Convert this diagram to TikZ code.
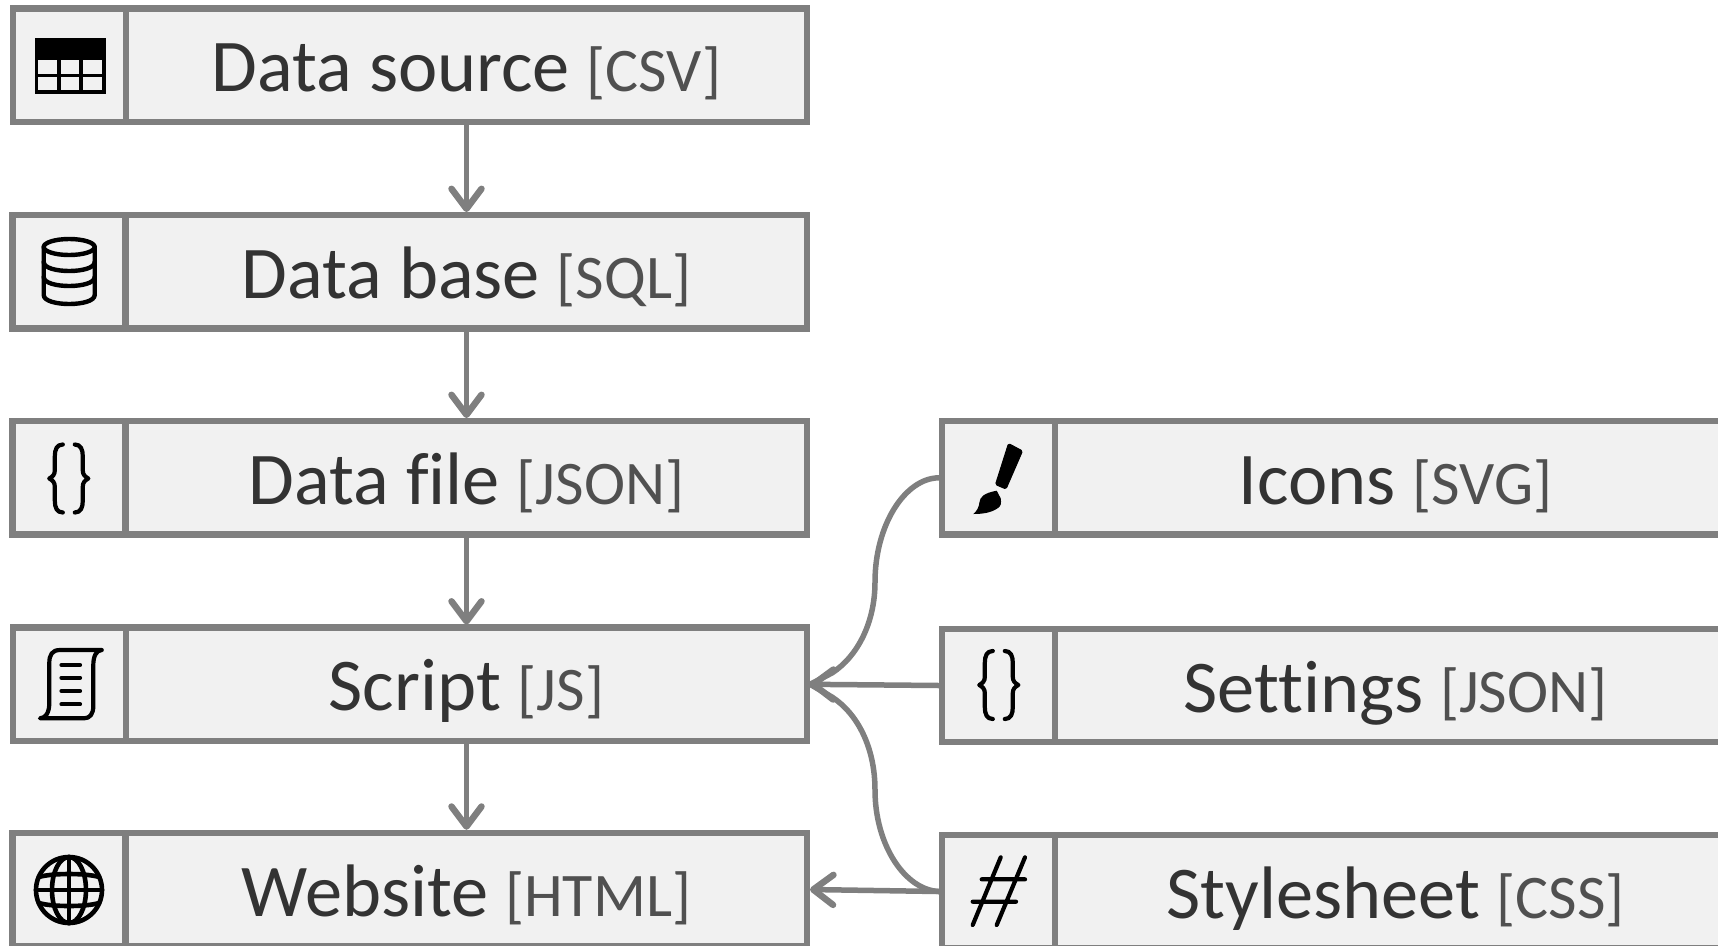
\documentclass[tikz,border=0pt]{standalone}
\usepackage{fontspec}
\setmainfont[Ligatures=NoCommon]{Carlito}
\usetikzlibrary{arrows.meta}
\definecolor{edge}{HTML}{7F7F7F}
\definecolor{fillc}{HTML}{F1F1F1}
\definecolor{maintext}{HTML}{333333}
\definecolor{subtext}{HTML}{505050}
\tikzset{
  x=1pt,y=-1pt,
  cell/.style={draw=edge,fill=fillc,line width=6.2pt,inner sep=0pt,outer sep=3pt,minimum height=113.5pt,
     text=maintext,font=\fontsize{74.4}{74.4}\selectfont,text height=53pt,text depth=0pt,align=center},
  iconcell/.style={cell,minimum width=113pt},
  leftlabel/.style={cell,minimum width=681pt},
  rightlabel/.style={cell,minimum width=681pt},
  conn/.style={draw=edge,line width=5.5pt},
  tip/.style={-{Straight Barb[length=20pt,width=30pt,line width=6.5pt,round]}},
  ink/.style={draw=black,line width=4.2pt,line cap=round,line join=round},
  inkfill/.style={fill=black,draw=black,line width=1pt,line join=round},
}
\newcommand{\lab}[2]{#1 {\fontsize{62}{62}\selectfont\color{subtext}[#2]}}
\newcommand{\bracehalf}{
  \draw[ink] (-6,-34) .. controls (-12,-34) and (-14,-29) .. (-14,-22) -- (-14,-8)
     .. controls (-14,-4) and (-16,-2) .. (-19.5,0) .. controls (-16,2) and (-14,4) .. (-14,8)
     -- (-14,22) .. controls (-14,29) and (-12,34) .. (-6,34);
}
\begin{document}
\begin{tikzpicture}
\useasboundingbox (0,0) rectangle (1718,945);
\clip (0,0) rectangle (1718,945);
% left column cells
\node[iconcell] (i1) at (69.5,65.2) {};
\node[leftlabel] (a) at (466.5,65.2) {\lab{Data source}{CSV}};
\node[iconcell] (i2) at (69,271.8) {};
\node[leftlabel] (b) at (466.5,271.8) {\lab{Data base}{SQL}};
\node[iconcell] (i3) at (69,477.8) {};
\node[leftlabel] (c) at (466.5,477.8) {\lab{Data file}{JSON}};
\node[iconcell] (i4) at (69.5,684.3) {};
\node[leftlabel] (d) at (466.5,684.3) {\lab{Script}{JS}};
\node[iconcell] (i5) at (69,889.5) {};
\node[leftlabel] (e) at (466.5,889.5) {\lab{Website}{HTML}};
% right column cells
\node[iconcell] (j1) at (998.5,477.8) {};
\node[rightlabel] (f) at (1395.5,477.8) {\lab{Icons}{SVG}};
\node[iconcell] (j2) at (998.5,685.5) {};
\node[rightlabel] (g) at (1395.5,685.5) {\lab{Settings}{JSON}};
\node[iconcell] (j3) at (998.5,891.5) {};
\node[rightlabel] (h) at (1395.5,891.5) {\lab{Stylesheet}{CSS}};
% connectors
\draw[conn,tip] (a.south) -- (b.north);
\draw[conn,tip] (b.south) -- (c.north);
\draw[conn,tip] (c.south) -- (d.north);
\draw[conn,tip] (d.south) -- (e.north);
\coordinate (m1) at (875,582);
\coordinate (m2) at (875,790);
\coordinate (k1) at (832,673);
\coordinate (k2) at (832,697);
\draw[conn,line join=round] (j1.west) .. controls (905,478) and (875,525) .. (m1) .. controls (875,622) and (858,656) .. (k1) -- (d.east);
\draw[conn,tip] (j2.west) -- (d.east);
\draw[conn,line join=round] (j3.west) .. controls (905,890) and (875,845) .. (m2) .. controls (875,748) and (858,714) .. (k2) -- (d.east);
\draw[conn,tip] (j3.west) -- (e.east);
% table icon
\draw[draw=black,line width=3.4pt] (36.4,39.5) rectangle (104,92);
\fill[black] (35,38) rectangle (105.5,59.5);
\draw[draw=black,line width=3.4pt] (59,59) -- (59,92) (81,59) -- (81,92) (36,75.5) -- (104.5,75.5);
% database icon
\draw[ink,line width=4.4pt] (69.2,247) ellipse [x radius=25.5,y radius=8];
\draw[ink,line width=4.4pt] (43.7,247) -- (43.7,295) .. controls (43.7,307) and (94.7,307) .. (94.7,295) -- (94.7,247);
\draw[ink,line width=4.4pt] (43.7,262) .. controls (43.7,274) and (94.7,274) .. (94.7,262);
\draw[ink,line width=4.4pt] (43.7,277) .. controls (43.7,289) and (94.7,289) .. (94.7,277);
% brace icons
\begin{scope}[shift={(68.8,478.5)}]
  \bracehalf
  \begin{scope}[xscale=-1]\bracehalf\end{scope}
\end{scope}
\begin{scope}[shift={(998.8,685)}]
  \bracehalf
  \begin{scope}[xscale=-1]\bracehalf\end{scope}
\end{scope}
% script icon
\draw[ink] (101.7,650) -- (60,650) .. controls (52,650) and (49.3,655) .. (49.3,663) -- (49.3,703)
   .. controls (49.3,712) and (46,718.3) .. (40,718.3) -- (84,718.3)
   .. controls (90,718.3) and (93.3,714) .. (93.3,706) -- (93.3,665)
   .. controls (93.3,657) and (96,650) .. (101.7,650);
\draw[ink] (61.5,665) -- (80,665) (61.5,677.7) -- (80,677.7) (61.5,691) -- (80,691) (61.5,704.3) -- (80,704.3);
% globe icon
\draw[ink,line width=4.6pt] (69,890) circle [radius=33];
\draw[ink,line width=4.6pt] (69,890) ellipse [x radius=17,y radius=33];
\draw[ink,line width=4.6pt] (69,857) -- (69,923) (36,890) -- (102,890);
\draw[ink,line width=4.6pt] (39,877) .. controls (52,873) and (86,873) .. (99,877);
\draw[ink,line width=4.6pt] (39,903) .. controls (52,907) and (86,907) .. (99,903);
% brush icon
\draw[inkfill,rounded corners=1.5pt] (1008.5,443.5) -- (1022.5,451) -- (1006,489) -- (995.5,484.5) -- cycle;
\fill[black] (996.7,490.7) -- (1000.7,498.3) .. controls (1001.5,503) and (1001,506) .. (998,508)
  .. controls (991,513) and (982,514) .. (973.3,514)
  .. controls (977,511) and (979,507) .. (979.5,502) .. controls (980,497) and (984,493) .. (996.7,490.7) -- cycle;
% hash icon
\draw[ink] (1000.7,857.3) -- (972.7,925) (1025,857.3) -- (996.7,925) (981.7,879.3) -- (1025,879.3) (972.7,901.7) -- (1016,901.7);
\end{tikzpicture}
\end{document}
